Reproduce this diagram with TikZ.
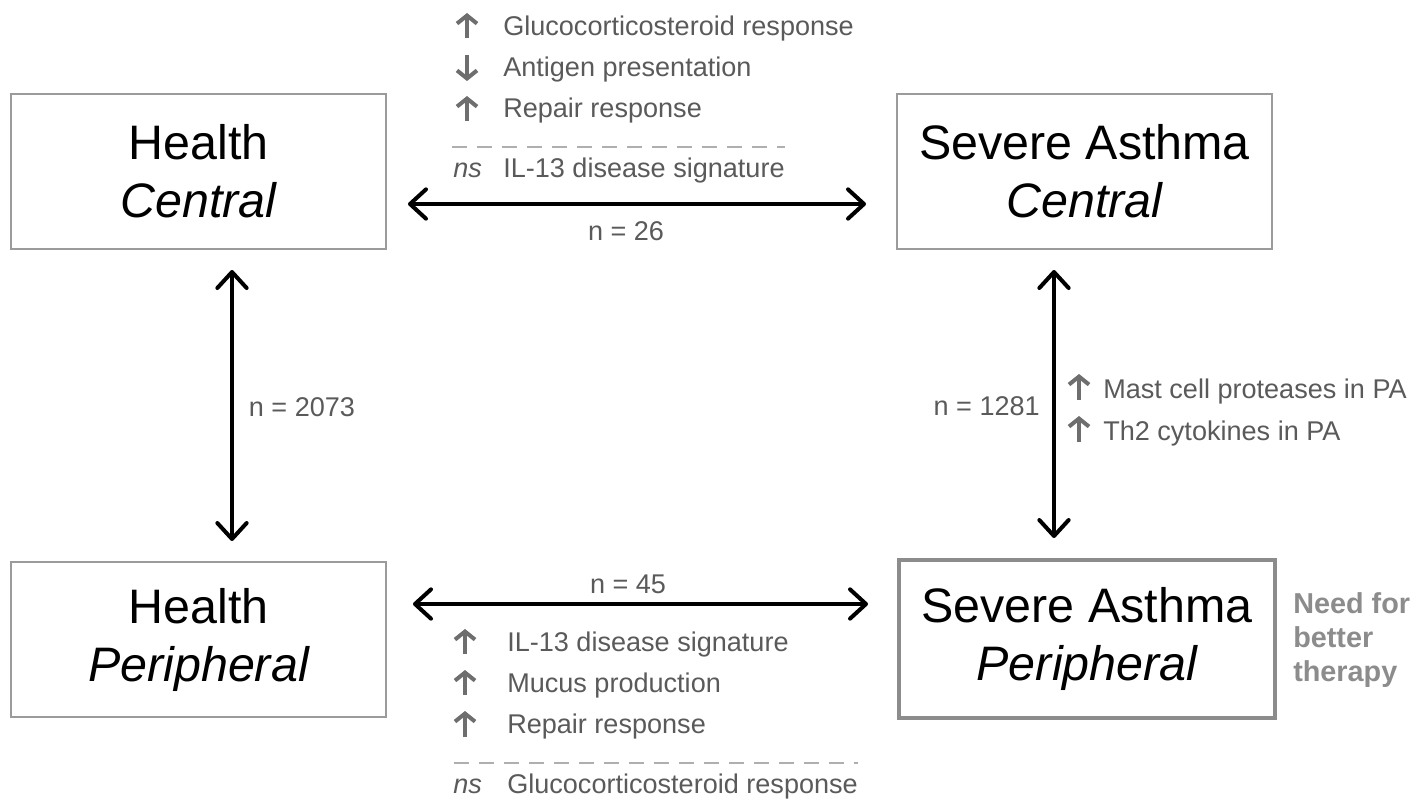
\documentclass[tikz,border=0pt]{standalone}
\usepackage{fontspec}
\setmainfont{Liberation Sans}
\usetikzlibrary{arrows.meta,calc}
\definecolor{boxgray}{RGB}{155,155,155}
\definecolor{boxdark}{RGB}{140,140,140}
\definecolor{txtgray}{RGB}{90,90,90}
\definecolor{arrgray}{RGB}{110,110,110}
\definecolor{dashgray}{RGB}{175,175,175}
\definecolor{needgray}{RGB}{140,140,140}
\begin{document}
\begin{tikzpicture}[x=0.75pt,y=-0.75pt,
 box/.style={draw=boxgray,line width=1.5pt,fill=white,minimum width=281.25pt,minimum height=116.25pt,
   align=center,font=\fontsize{36.3}{43.5}\selectfont,inner sep=0pt,outer sep=0pt},
 big/.style={line width=3pt,line join=round,{Straight Barb[length=12pt,width=22pt,round]}-{Straight Barb[length=12pt,width=22pt,round]}},
 lab/.style={text=txtgray,font=\fontsize{20.3}{24}\selectfont,inner sep=0pt,anchor=base west},
 nlab/.style={text=txtgray,font=\fontsize{20.3}{24}\selectfont,inner sep=0pt,anchor=base},
 upar/.style={line width=3pt,arrgray,-{Straight Barb[length=6pt,width=15pt]}},
 sep/.style={dashgray,line width=1.4pt,dash pattern=on 11.25pt off 7.5pt}
]
\useasboundingbox (0,0) rectangle (1428,801);
\fill[white] (0,0) rectangle (1428,801);

% boxes
\node[box] (HC) at (198.5,171.5) {Health\\\itshape Central};
\node[box] (SAC) at (1084.5,171.5) {Severe Asthma\\\itshape Central};
\node[box] (HP) at (198.5,639.5) {Health\\\itshape Peripheral};
\node[box,draw=boxdark,line width=3pt,minimum width=282pt,minimum height=118.5pt] (SAP) at (1087,639) {Severe Asthma\\\itshape Peripheral};

% connectors
\draw[big] ($(HC.east)+(22,32.5)$) -- ($(SAC.west)+(-31,32.5)$);
\draw[big] ($(HP.east)+(27,-35.5)$) -- ($(SAP.west)+(-31,-35)$);
\draw[big] ($(HC.south)+(33.5,21)$) -- ($(HP.north)+(33.5,-21)$);
\draw[big] ($(SAC.south)+(-30.5,21)$) -- ($(SAP.north)+(-33,-22)$);

% n labels
\node[nlab] (n26) at (626,240) {n = 26};
\node[nlab] (n45) at (628,593) {n = 45};
\node[nlab] (n2073) at (302,416) {n = 2073};
\node[nlab,anchor=base east] (n1281) at (1040,415) {n = 1281};

% top list
\draw[upar] (467,38) -- (467,13);
\node[lab] (t1) at (503,35) {Glucocorticosteroid response};
\draw[upar] (467,55) -- (467,81);
\node[lab] (t2) at (503,76) {Antigen presentation};
\draw[upar] (467,121) -- (467,96);
\node[lab] (t3) at (503,117) {Repair response};
\draw[sep] (452,147) -- (785,147);
\node[lab,font=\fontsize{20.3}{24}\selectfont\itshape] (tns) at (453,177) {ns};
\node[lab] (t4) at (503,177) {IL-13 disease signature};

% bottom list
\draw[upar] (465,654) -- (465,629);
\node[lab] (b1) at (507,651) {IL-13 disease signature};
\draw[upar] (465,695) -- (465,670);
\node[lab] (b2) at (507,692) {Mucus production};
\draw[upar] (465,737) -- (465,711);
\node[lab] (b3) at (507,733) {Repair response};
\draw[sep] (454,763) -- (858,763);
\node[lab,font=\fontsize{20.3}{24}\selectfont\itshape] (bns) at (453,793) {ns};
\node[lab] (b4) at (507,793) {Glucocorticosteroid response};

% right list
\draw[upar] (1079,400) -- (1079,374);
\node[lab] (r1) at (1103,398) {Mast cell proteases in PA};
\draw[upar] (1079,442) -- (1079,416);
\node[lab] (r2) at (1103,440) {Th2 cytokines in PA};

% need for better therapy
\node[anchor=north west,align=left,inner sep=0pt,text=needgray,
  font=\bfseries\fontsize{21.6}{25.8}\selectfont] (need) at (1293,592) {Need for\\better\\therapy};
\end{tikzpicture}
\end{document}
